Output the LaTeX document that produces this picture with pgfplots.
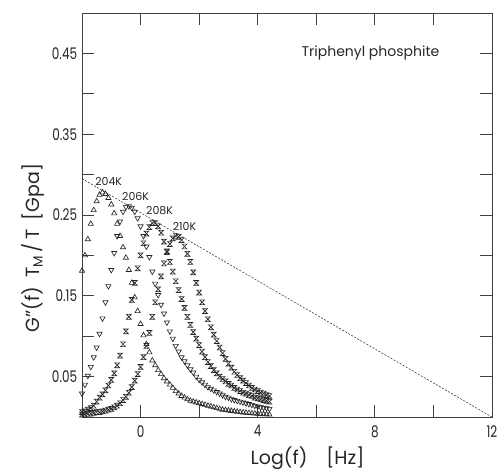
\documentclass[border=0pt]{standalone}
\usepackage{fontspec}
\setmainfont{Poppins}
\usepackage{pgfplots}
\usepackage{pgfplotstable}
\pgfplotsset{compat=1.18}

% hourglass mark (x with top and bottom bars)
\pgfdeclareplotmark{hourglass}{%
  \pgfpathmoveto{\pgfqpoint{-\pgfplotmarksize}{\pgfplotmarksize}}%
  \pgfpathlineto{\pgfqpoint{\pgfplotmarksize}{\pgfplotmarksize}}%
  \pgfpathlineto{\pgfqpoint{-\pgfplotmarksize}{-\pgfplotmarksize}}%
  \pgfpathlineto{\pgfqpoint{\pgfplotmarksize}{-\pgfplotmarksize}}%
  \pgfpathclose
  \pgfusepathqstroke
}

% G''(f) T_M/T [GPa] against log f
\pgfplotstableread{
x     t204   t206   t208   t210
-2.0  0.181  0.029  0.006  0.003
-1.9  0.200  0.040  0.007  0.003
-1.8  0.220  0.051  0.009  0.004
-1.7  0.239  0.062  0.011  0.004
-1.6  0.256  0.074  0.014  0.005
-1.5  0.267  0.086  0.019  0.006
-1.4  0.275  0.103  0.024  0.006
-1.3  0.278  0.122  0.028  0.007
-1.2  0.276  0.142  0.033  0.008
-1.1  0.271  0.162  0.039  0.009
-1.0  0.263  0.182  0.046  0.010
-0.9  0.252  0.203  0.054  0.012
-0.8  0.239  0.224  0.064  0.014
-0.7  0.224  0.242  0.076  0.017
-0.6  0.210  0.254  0.090  0.021
-0.5  0.197  0.260  0.106  0.025
-0.4  0.182  0.261  0.124  0.030
-0.3  0.166  0.259  0.145  0.037
-0.2  0.148  0.254  0.166  0.045
-0.1  0.131  0.246  0.184  0.053
0.0   0.115  0.236  0.200  0.062
0.1   0.101  0.224  0.215  0.074
0.2   0.090  0.211  0.227  0.088
0.3   0.080  0.198  0.235  0.104
0.4   0.070  0.180  0.240  0.124
0.5   0.064  0.165  0.240  0.142
0.6   0.058  0.151  0.236  0.158
0.7   0.053  0.139  0.228  0.174
0.8   0.048  0.128  0.217  0.190
0.9   0.044  0.117  0.205  0.204
1.0   0.040  0.106  0.192  0.214
1.1   0.036  0.097  0.180  0.221
1.2   0.032  0.088  0.168  0.224
1.3   0.029  0.081  0.157  0.223
1.4   0.026  0.074  0.146  0.219
1.5   0.024  0.069  0.135  0.211
1.6   0.022  0.064  0.124  0.202
1.7   0.020  0.059  0.114  0.192
1.8   0.019  0.055  0.105  0.179
1.9   0.018  0.050  0.097  0.166
2.0   0.017  0.046  0.089  0.154
2.1   0.016  0.043  0.081  0.142
2.2   0.015  0.040  0.074  0.131
2.3   0.014  0.037  0.068  0.121
2.4   0.013  0.035  0.063  0.111
2.5   0.012  0.033  0.058  0.102
2.6   0.011  0.031  0.054  0.094
2.7   0.010  0.029  0.050  0.086
2.8   0.009  0.027  0.047  0.079
2.9   0.0085 0.025  0.044  0.072
3.0   0.008  0.024  0.041  0.066
3.1   0.0075 0.022  0.039  0.061
3.2   0.007  0.021  0.036  0.056
3.3   0.0065 0.020  0.034  0.052
3.4   0.006  0.019  0.032  0.048
3.5   0.0056 0.018  0.030  0.045
3.6   0.0052 0.017  0.029  0.042
3.7   0.0049 0.016  0.027  0.039
3.8   0.0045 0.015  0.026  0.036
3.9   0.0042 0.014  0.024  0.034
4.0   0.0039 0.013  0.023  0.032
4.1   0.0036 0.012  0.022  0.030
4.2   0.0034 0.0115 0.021  0.029
4.3   0.0032 0.011  0.020  0.027
4.4   0.003  0.010  0.019  0.026
}\modulus

\begin{document}
\begin{tikzpicture}
\useasboundingbox (-82pt,-56pt) rectangle (417pt,417pt);
\begin{axis}[
    at={(0,0)}, anchor=south west,
    scale only axis,
    width=410pt, height=404pt,
    xmin=-2, xmax=12, ymin=0, ymax=0.5,
    xtick={0,4,8,12}, minor xtick={2,6,10},
    xticklabels={0,4,8,12},
    ytick={0.05,0.15,0.25,0.35,0.45}, minor ytick={0.1,0.2,0.3,0.4},
    yticklabels={0.05,0.15,0.25,0.35,0.45},
    tick align=inside, tick pos=both,
    major tick length=12pt, minor tick length=12pt,
    every tick/.style={black!75, line width=0.8pt},
    axis line style={black!75, line width=0.8pt},
    tick label style={font=\fontsize{16}{16}\selectfont, xscale=0.75, text=black!85},
    xticklabel style={yshift=-5pt},
    yticklabel style={xshift=-3pt},
    label style={font=\fontsize{19}{19}\selectfont, text=black!85},
    xlabel={Log(f)\quad[Hz]},
    ylabel={G''(f)\enspace T\textsubscript{M}\,/\,T\enspace [Gpa]},
    xlabel style={at={(axis description cs:0.55,-0.102)}, anchor=center},
    ylabel style={at={(axis description cs:-0.12,0.418)}, anchor=center},
    clip=false,
]
\addplot[black!80, line width=0.55pt, dash pattern=on 2pt off 1.5pt]
    coordinates {(-2,0.295) (12,0)};
\addplot[only marks, mark=triangle, mark size=3pt,
    mark options={black!85, line width=0.65pt}] table[x=x, y=t204] {\modulus};
\addplot[only marks, mark=triangle, mark size=3pt,
    mark options={black!85, line width=0.65pt, rotate=180}] table[x=x, y=t206] {\modulus};
\addplot[only marks, mark=hourglass, mark size=2.4pt,
    mark options={black!85, line width=0.65pt}] table[x=x, y=t208] {\modulus};
\addplot[only marks, mark=hourglass, mark size=2.4pt,
    mark options={black!85, line width=0.65pt}] table[x=x, y=t210] {\modulus};
\node[font=\fontsize{11}{11}\selectfont, text=black!85] at (axis cs:-1.09,0.292) {204K};
\node[font=\fontsize{11}{11}\selectfont, text=black!85] at (axis cs:-0.17,0.273) {206K};
\node[font=\fontsize{11}{11}\selectfont, text=black!85] at (axis cs:0.65,0.255) {208K};
\node[font=\fontsize{11}{11}\selectfont, text=black!85] at (axis cs:1.5,0.236) {210K};
\node[font=\fontsize{14}{14}\selectfont, text=black!85] at (axis cs:7.85,0.45) {Triphenyl phosphite};
\end{axis}
\end{tikzpicture}
\end{document}
